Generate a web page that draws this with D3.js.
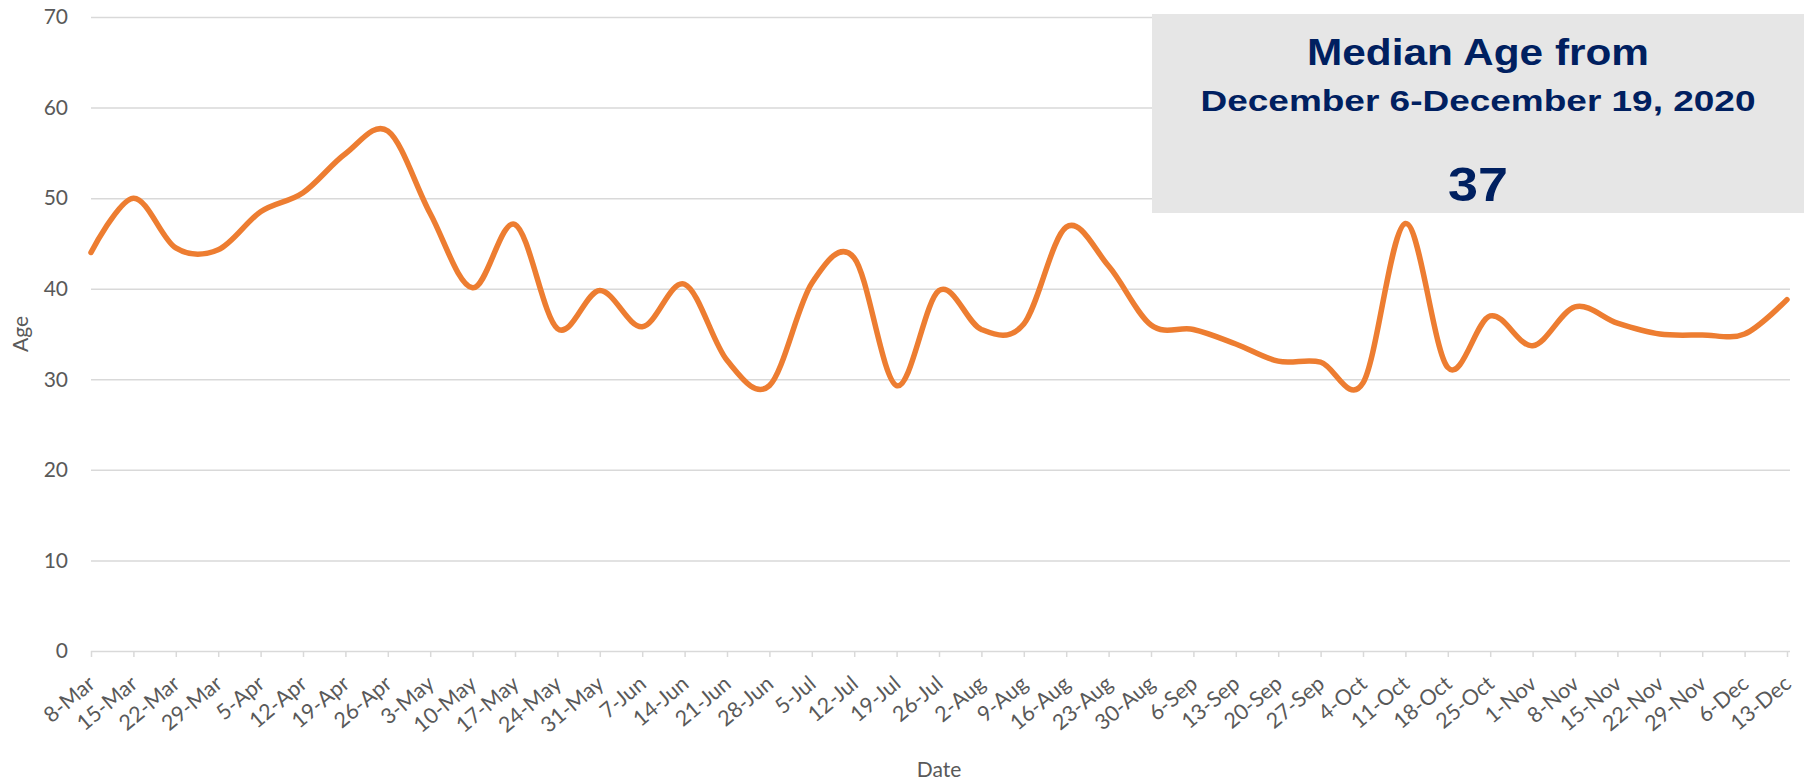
<!DOCTYPE html>
<html>
<head>
<meta charset="utf-8">
<script src="https://cdn.jsdelivr.net/npm/d3@7"></script>
<style>
  body { margin: 0; background: #fff; }
  .axis text { font-family: Lato, "Liberation Sans", sans-serif; fill: #595959; }
  .box-text { font-family: "Liberation Sans", Arial, sans-serif; font-weight: bold; fill: #002060; }
</style>
</head>
<body>
<div id="chart"></div>
<script>

// weekly dates on the x axis
var dates = ["8-Mar", "15-Mar", "22-Mar", "29-Mar", "5-Apr", "12-Apr", "19-Apr", "26-Apr",
  "3-May", "10-May", "17-May", "24-May", "31-May", "7-Jun", "14-Jun", "21-Jun", "28-Jun",
  "5-Jul", "12-Jul", "19-Jul", "26-Jul", "2-Aug", "9-Aug", "16-Aug", "23-Aug", "30-Aug",
  "6-Sep", "13-Sep", "20-Sep", "27-Sep", "4-Oct", "11-Oct", "18-Oct", "25-Oct",
  "1-Nov", "8-Nov", "15-Nov", "22-Nov", "29-Nov", "6-Dec", "13-Dec"];

// median age for each week
var medianAge = [44.0, 50.0, 44.5, 44.3, 48.5, 50.6, 54.9, 57.4,
  48.3, 40.1, 47.1, 35.6, 39.8, 35.8, 40.5, 32.1, 29.3,
  40.6, 43.4, 29.3, 39.8, 35.5, 36.1, 46.8, 42.5, 36.0,
  35.5, 33.9, 32.0, 31.9, 29.6, 47.2, 31.3, 37.0,
  33.7, 38.0, 36.2, 35.0, 34.9, 35.0, 38.8];

var yTicks = [0, 10, 20, 30, 40, 50, 60, 70];

var boxTitle = "Median Age from",
    boxRange = "December 6-December 19, 2020",
    boxValue = "37";

var width = 1804,
    height = 783;

// plot area (px)
var pLeft = 91, pRight = 1787, pTop = 17, pBottom = 651;

var svg = d3.select("#chart")
    .append("svg")
    .attr("width", width)
    .attr("height", height)

var x = d3.scalePoint().domain(dates).range([pLeft, pRight]),
    y = d3.scaleLinear().domain([0, 70]).range([pBottom, pTop]);

// gridlines + y labels
var yAxis = svg.append("g")
    .attr("class", "axis axis-y")
    .attr("transform", "translate(" + pLeft + ",0)")
    .call(d3.axisLeft(y).tickValues(yTicks).tickSize(-(pRight - pLeft + 3)).tickPadding(23))

yAxis.select(".domain").remove()
yAxis.selectAll("line").attr("stroke", "#d9d9d9").attr("stroke-width", 1.5)
yAxis.selectAll("text").style("font-size", "21px")

// x axis ticks + rotated labels
var xAxis = svg.append("g")
    .attr("class", "axis axis-x")
    .attr("transform", "translate(0," + pBottom + ")")
    .call(d3.axisBottom(x).tickSize(6).tickSizeOuter(0))

xAxis.select(".domain").remove()
xAxis.selectAll("line").attr("stroke", "#d9d9d9").attr("stroke-width", 1.5)
xAxis.selectAll("text")
    .style("font-size", "21.5px")
    .style("text-anchor", "end")
    .attr("y", 0)
    .attr("dy", 0)
    .attr("transform", "translate(5,35) rotate(-40)")

// the line
var line = d3.line()
    .x(function (d, i) { return x(dates[i]); })
    .y(function (d) { return y(d); })
    .curve(d3.curveCardinal.tension(0))

svg.append("path")
    .datum(medianAge)
    .attr("d", line)
    .attr("fill", "none")
    .attr("stroke", "#ED7D31")
    .attr("stroke-width", 5.5)
    .attr("stroke-linecap", "round")
    .attr("stroke-linejoin", "round")

// axis titles
svg.append("text")
    .attr("transform", "translate(28," + ((pTop + pBottom) / 2) + ") rotate(-90)")
    .style("text-anchor", "middle")
    .style("font-family", "Lato, sans-serif")
    .style("font-size", "21px")
    .style("fill", "#595959")
    .text("Age")

svg.append("text")
    .attr("x", (pLeft + pRight) / 2)
    .attr("y", 777)
    .style("text-anchor", "middle")
    .style("font-family", "Lato, sans-serif")
    .style("font-size", "21px")
    .style("fill", "#595959")
    .text("Date")

// median box
var boxX = 1152, boxY = 14, boxW = width - 1152, boxH = 199;
var cx = boxX + boxW / 2;

svg.append("rect")
    .attr("x", boxX)
    .attr("y", boxY)
    .attr("width", boxW)
    .attr("height", boxH)
    .style("fill", "#e6e6e6")

svg.append("text")
    .attr("class", "box-text")
    .attr("x", cx)
    .attr("y", 65)
    .style("text-anchor", "middle")
    .style("font-size", "37px")
    .attr("textLength", 342)
    .attr("lengthAdjust", "spacingAndGlyphs")
    .text(boxTitle)

svg.append("text")
    .attr("class", "box-text")
    .attr("x", cx)
    .attr("y", 111)
    .style("text-anchor", "middle")
    .style("font-size", "29px")
    .attr("textLength", 555)
    .attr("lengthAdjust", "spacingAndGlyphs")
    .text(boxRange)

svg.append("text")
    .attr("class", "box-text")
    .attr("x", cx)
    .attr("y", 201)
    .style("text-anchor", "middle")
    .style("font-size", "49px")
    .attr("textLength", 60)
    .attr("lengthAdjust", "spacingAndGlyphs")
    .text(boxValue)

</script>
</body>
</html>
